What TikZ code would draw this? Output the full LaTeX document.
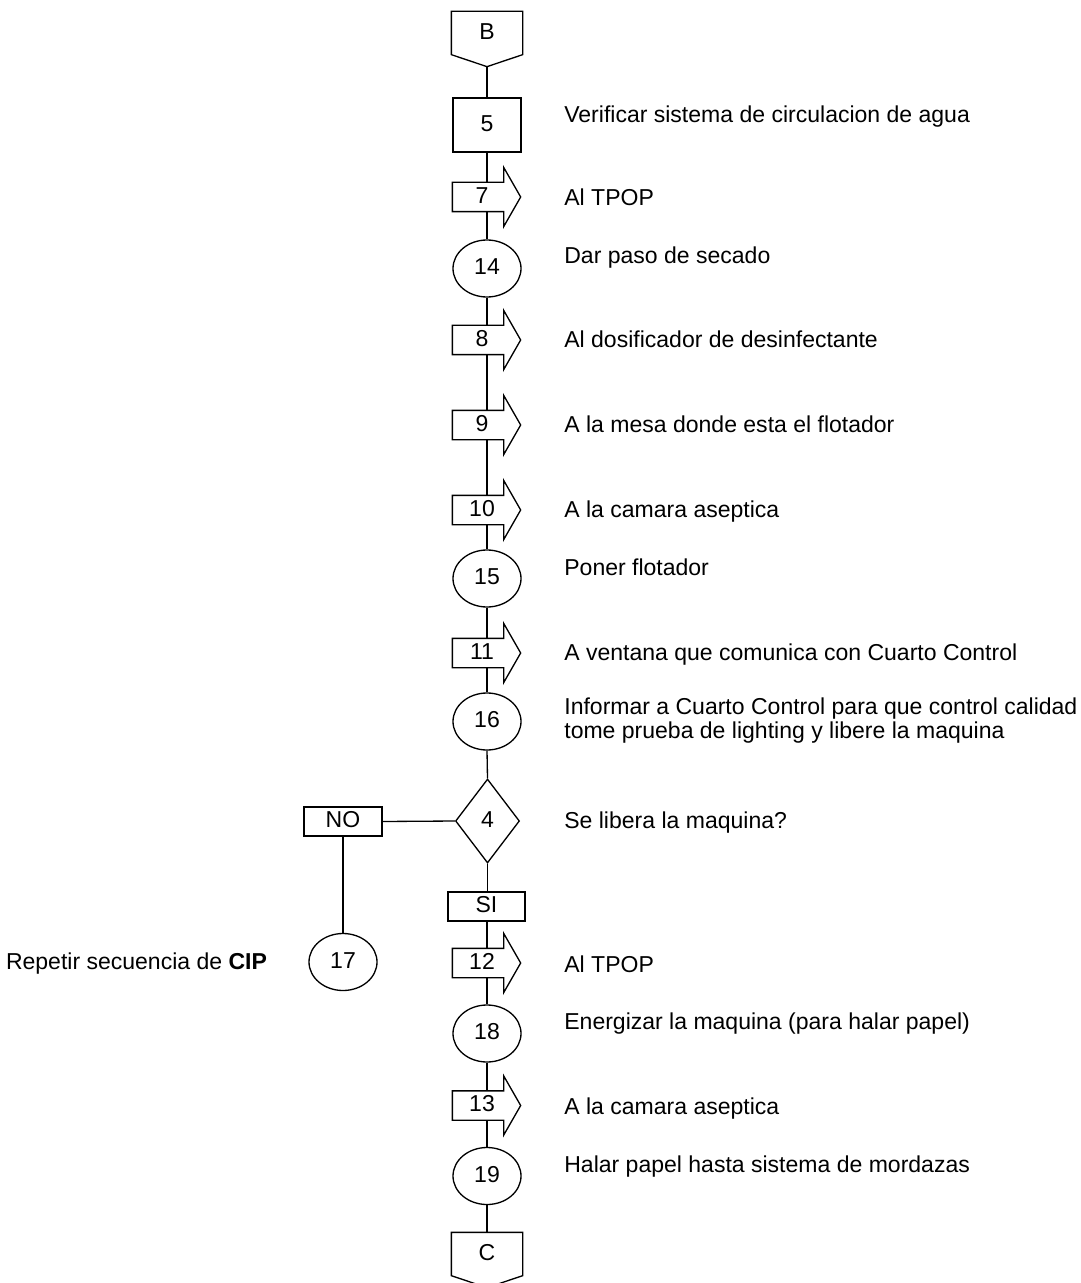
\documentclass[tikz,border=0pt]{standalone}
\usepackage{fontspec}
\setmainfont{Liberation Sans}
\usetikzlibrary{shapes.geometric, calc, positioning}
\newlength{\pu}
\setlength{\pu}{0.02cm}
\tikzset{
    basebox/.style={draw=black, line width=0.75pt, inner sep=0pt, text centered, font=\fontsize{13.1}{13.6}\selectfont, text height=0.72em, text depth=0em},
    opbox/.style={basebox, rectangle, minimum width=68\pu, minimum height=54\pu},
    movebox/.style={basebox, draw=none, rectangle, minimum width=58\pu, minimum height=28\pu},
    pagelink/.style={basebox, draw=none, rectangle, minimum width=70\pu, minimum height=42\pu},
    workcircle/.style={basebox, ellipse, minimum width=68\pu, minimum height=57\pu},
    decision/.style={basebox, diamond, minimum width=64\pu, minimum height=84\pu},
    answerbox/.style={basebox, rectangle, line width=1pt, minimum width=77\pu, minimum height=29\pu},
    note/.style={anchor=west, inner sep=0pt, align=left, font=\fontsize{13.1}{13.6}\selectfont, text height=1.0em, text depth=0.15em},
    line/.style={line width=0.75pt, color=black}
}

\begin{document}
\begin{tikzpicture}[x=0.02cm, y=-0.02cm]
    \useasboundingbox (0,0) rectangle (1080,1283);

    % Main column
    \node (B) [pagelink] at (487,33) {B};
    \node (b5) [opbox] at (487,125) {5};
    \node (t7) [movebox] at (482,197) {7};
    \node (c14) [workcircle] at (487,268.5) {14};
    \node (t8) [movebox] at (482,340) {8};
    \node (t9) [movebox] at (482,425) {9};
    \node (t10) [movebox] at (482,510) {10};
    \node (c15) [workcircle] at (487,578.5) {15};
    \node (t11) [movebox] at (482,653) {11};
    \node (c16) [workcircle] at (487,721.5) {16};
    \node (d4) [decision] at (487.5,821) {4};
    \node (si) [answerbox] at (486.5,906.5) {SI};
    \node (t12) [movebox] at (482,963) {12};
    \node (c18) [workcircle] at (487,1033.5) {18};
    \node (t13) [movebox] at (482,1105.5) {13};
    \node (c19) [workcircle] at (487,1176) {19};
    \node (C) [pagelink] at (487,1254) {C};

    % Branch NO
    \node (no) [answerbox, minimum width=78\pu] at (343,821.5) {NO};
    \node (c17) [workcircle] at (343,962) {17};

    % Descriptions
    \node (n5) [note] at (564,115) {Verificar sistema de circulacion de agua};
    \node (n7) [note] at (564,198) {Al TPOP};
    \node (n14) [note] at (564,256) {Dar paso de secado};
    \node (n8) [note] at (564,340) {Al dosificador de desinfectante};
    \node (n9) [note] at (564,425) {A la mesa donde esta el flotador};
    \node (n10) [note] at (564,510) {A la camara aseptica};
    \node (n15) [note] at (564,568) {Poner flotador};
    \node (n11) [note] at (564,653) {A ventana que comunica con Cuarto Control};
    \node (n16) [note] at (564,731) {Informar a Cuarto Control para que control calidad\\tome prueba de lighting y libere la maquina};
    \node (n4) [note] at (564,821) {Se libera la maquina?};
    \node (n12) [note] at (564,965) {Al TPOP};
    \node (n18) [note] at (564,1022) {Energizar la maquina (para halar papel)};
    \node (n13) [note] at (564,1107) {A la camara aseptica};
    \node (n19) [note] at (564,1165) {Halar papel hasta sistema de mordazas};
    \node (n17) [note, anchor=east, left=41\pu of c17] {Repetir secuencia de \textbf{CIP}};

    % Outlines of transport and off-page shapes
    \foreach \t in {t7,t8,t9,t10,t11,t12,t13}
        \draw [line] (\t.north west) -- ($(\t.north east)+(-8,0)$) -- ++(0,-15) -- ($(\t.east)+(9,0)$) -- ($(\t.south east)+(-8,15)$) -- ($(\t.south east)+(-8,0)$) -- (\t.south west) -- cycle;
    \foreach \p in {B,C}
        \draw [line] (\p.north west) -- (\p.north east) -- (\p.south east) -- ($(\p.south)+(0,12)$) -- (\p.south west) -- cycle;
    \coordinate (Btip) at ($(B.south)+(0,12)$);

    % Connectors
    \draw [line] (Btip) -- (b5.north);
    \draw [line] (b5.south) -- (b5.south |- t7.north);
    \draw [line] (t7.south -| c14) -- (c14.north);
    \draw [line] (c14.south) -- (c14.south |- t8.north);
    \draw [line] (t8.south -| c14) -- (c14 |- t9.north);
    \draw [line] (t9.south -| c14) -- (c14 |- t10.north);
    \draw [line] (t10.south -| c15) -- (c15.north);
    \draw [line] (c15.south) -- (c15.south |- t11.north);
    \draw [line] (t11.south -| c16) -- (c16.north);
    \draw [line] (c16.south) -- (d4.north);
    \draw [line] (d4.west) -- (no.east);
    \draw [line] (no.south) -- (c17.north);
    \draw [line] (d4.south) -- (d4.south |- si.north);
    \draw [line] (si.south -| c18) -- (c18 |- t12.north);
    \draw [line] (t12.south -| c18) -- (c18.north);
    \draw [line] (c18.south) -- (c18.south |- t13.north);
    \draw [line] (t13.south -| c19) -- (c19.north);
    \draw [line] (c19.south) -- (C.north);
\end{tikzpicture}
\end{document}
